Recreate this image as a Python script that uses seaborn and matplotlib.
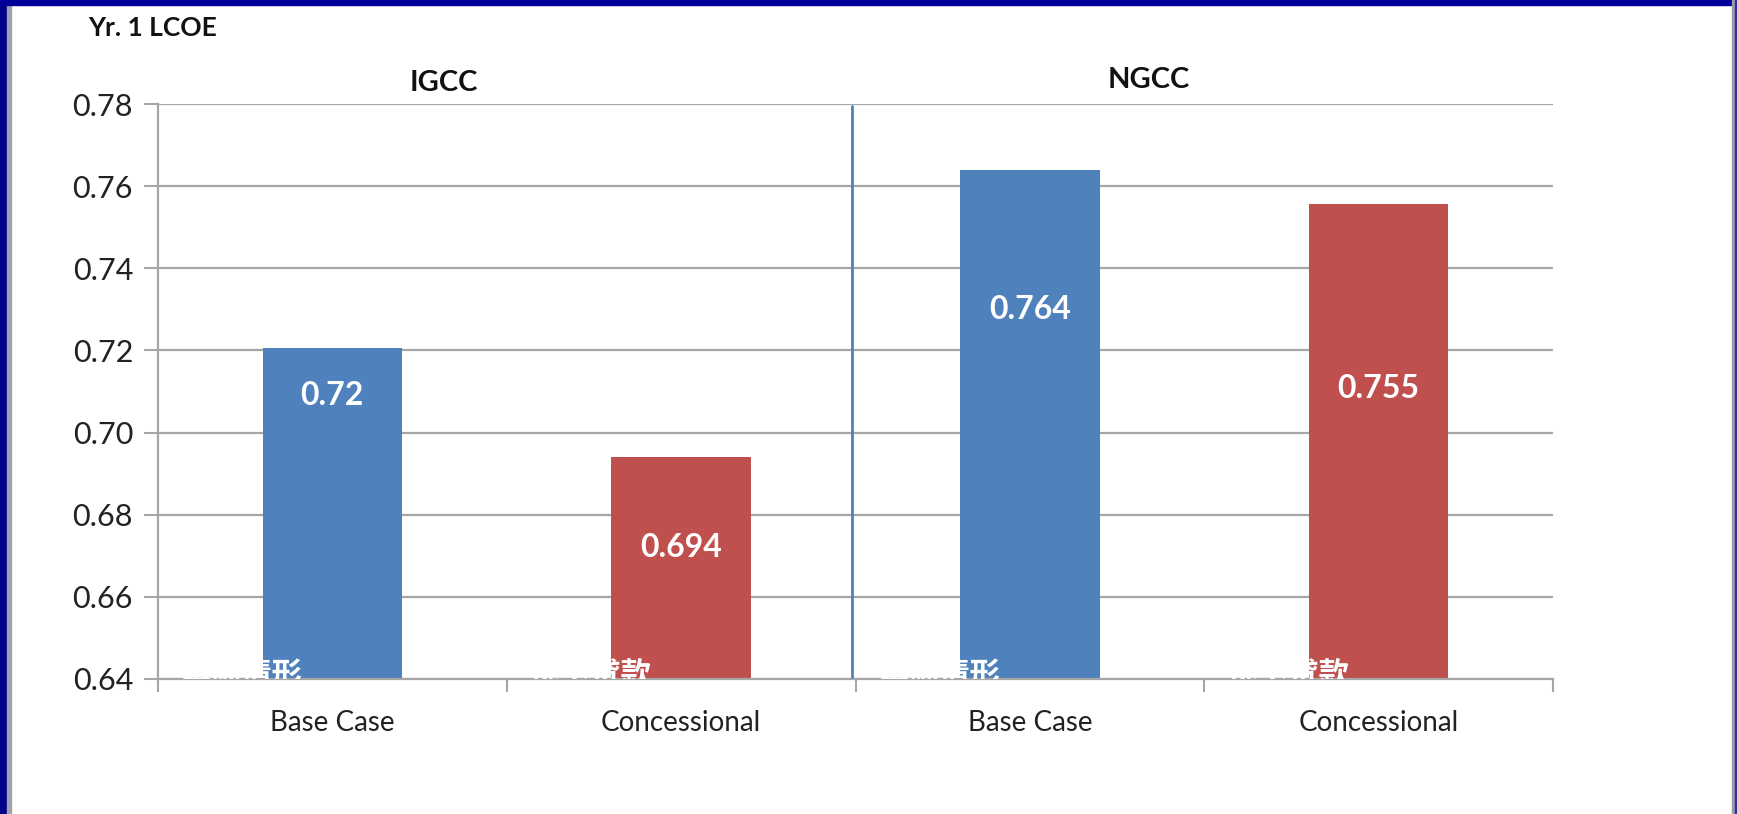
import pandas as pd
import seaborn as sns
import matplotlib.pyplot as plt
from matplotlib.patches import Rectangle

# 数据
groups = ['IGCC', 'IGCC', 'NGCC', 'NGCC']
cases = ['Base Case', 'Concessional', 'Base Case', 'Concessional']
lcoe = [0.7205, 0.694, 0.764, 0.7557]
value_labels = ['0.72', '0.694', '0.764', '0.755']
label_y = [0.709, 0.672, 0.730, 0.7107]
cn_labels = ['基础情形', '优惠贷款', '基础情形', '优惠贷款']
group_names = ['IGCC', 'NGCC']
yticks = [0.64, 0.66, 0.68, 0.70, 0.72, 0.74, 0.76, 0.78]

df = pd.DataFrame({'slot': [g + ' ' + c for g, c in zip(groups, cases)],
                   'case': cases, 'value': lcoe})

sns.set_theme(style="white")
plt.rcParams['font.family'] = ['Lato', 'Noto Sans CJK SC', 'DejaVu Sans']

fig = plt.figure(figsize=(17.37, 8.14), dpi=100)
ax = fig.add_axes([158 / 1737, 1 - 679 / 814, (1553 - 158) / 1737, (679 - 104) / 814])

sns.barplot(data=df, x='slot', y='value', hue='case', dodge=False, width=0.4, saturation=1,
            palette={'Base Case': '#4F81BD', 'Concessional': '#C0504D'},
            legend=False, ax=ax)
for p in ax.patches:
    p.set_linewidth(0)

ax.set_ylim(0.64, 0.78)
ax.set_xlim(-0.5, 3.5)
ax.set_yticks(yticks)
ax.set_yticklabels([f'{v:.2f}' for v in yticks], fontsize=22, color='#222222')
ax.yaxis.grid(True, color='#a6a6a6', linewidth=1.6)
ax.set_axisbelow(True)

ax.set_xticks([-0.5, 0.5, 1.5, 2.5, 3.5])
ax.set_xticklabels([])
ax.set_xticks(range(len(cases)), minor=True)
ax.set_xticklabels(cases, minor=True, fontsize=20, color='#222222')
ax.tick_params(axis='x', which='minor', length=0, pad=22)
ax.tick_params(axis='x', which='major', direction='out', length=9, width=1.5, color='#a6a6a6', bottom=True)
ax.tick_params(axis='y', direction='out', length=10, width=1.5, color='#a6a6a6', left=True, pad=8)
ax.set_xlabel('')
ax.set_ylabel('')

for s in ['top', 'right']:
    ax.spines[s].set_visible(False)
for s in ['left', 'bottom']:
    ax.spines[s].set_color('#a6a6a6')
    ax.spines[s].set_linewidth(1.6)

# 数值标签
for i, (t, y) in enumerate(zip(value_labels, label_y)):
    ax.text(i, y, t, ha='center', va='center', color='white', fontsize=23, fontweight='bold')

# 被遮住的中文标签
for i, t in enumerate(cn_labels):
    ax.text(i - 0.26, 0.6448, t, ha='center', va='top', color='white', fontsize=22,
            fontweight='bold', clip_on=True, zorder=5)

# 分隔线
ax.plot([1.49, 1.49], [0.6405, 0.7795], color='#4F81BD', linewidth=2, zorder=4)

ax.text(0.32, 0.7851, group_names[0], ha='center', va='center', fontsize=21, fontweight='bold', color='#111111')
ax.text(2.34, 0.7858, group_names[1], ha='center', va='center', fontsize=21, fontweight='bold', color='#111111')
fig.text(88 / 1737, 1 - 28 / 814, 'Yr. 1 LCOE', ha='left', va='center', fontsize=19, fontweight='bold', color='#111111')

# 边框
fig.patches.append(Rectangle((0, 0), 7 / 1737, 1, transform=fig.transFigure, color='#000088', zorder=10))
fig.patches.append(Rectangle((7 / 1737, 0), 4 / 1737, 1 - 5 / 814, transform=fig.transFigure, color='#a0a0a8', zorder=10))
fig.patches.append(Rectangle((0, 1 - 5 / 814), 1, 5 / 814, transform=fig.transFigure, color='#000099', zorder=10))
fig.patches.append(Rectangle((1732 / 1737, 0), 3 / 1737, 1, transform=fig.transFigure, color='#9a9aa8', zorder=10))
fig.patches.append(Rectangle((1735 / 1737, 0), 2 / 1737, 1, transform=fig.transFigure, color='#3030a0', zorder=10))

plt.savefig('out.png', dpi=100)
